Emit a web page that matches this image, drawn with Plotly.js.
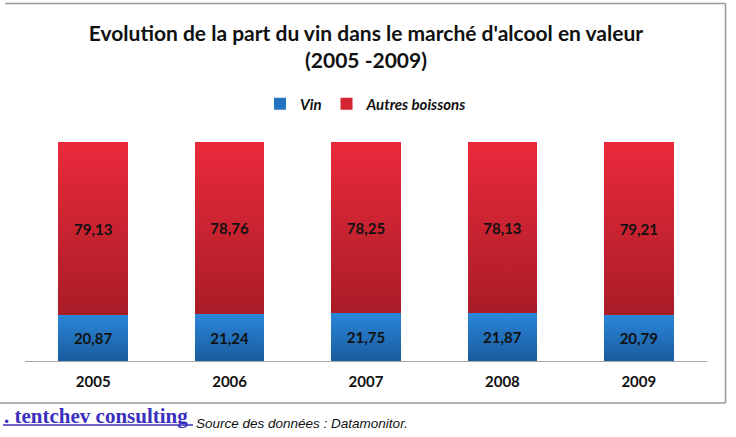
<!DOCTYPE html>
<html>
<head>
<meta charset="utf-8">
<script src="https://cdn.plot.ly/plotly-3.0.1.min.js"></script>
<style>html,body{margin:0;padding:0;background:#fff;}#chart{width:736px;height:437px;}</style>
</head>
<body>
<div id="chart"></div>
<script>
const years = ['2005', '2006', '2007', '2008', '2009'];
const vin = [20.87, 21.24, 21.75, 21.87, 20.79];
const autres = [79.13, 78.76, 78.25, 78.13, 79.21];
const seriesNames = ['Vin', 'Autres boissons'];
const titleText = "Evolution de la part du vin dans le marché d'alcool en valeur<br>(2005 -2009)";
const footerBrand = '. tentchev consulting';
const footerSource = 'Source des données : Datamonitor.';

const W = 736, H = 437;
const M = {l: 25, r: 29, t: 142, b: 76};
const pw = W - M.l - M.r, ph = H - M.t - M.b;
const px = x => (x - M.l) / pw;
const py = y => (H - M.b - y) / ph;

const labelFont = {family: 'Lato, "Open Sans", sans-serif', size: 15, color: '#111', weight: 'bold'};

const traces = [
  {type: 'bar', x: years, y: vin, name: seriesNames[0],
   marker: {color: '#2474c2'},
   texttemplate: '<b>%{y:.2f}</b>', textposition: 'inside', insidetextanchor: 'middle',
   textfont: labelFont, hoverinfo: 'none'},
  {type: 'bar', x: years, y: autres, name: seriesNames[1],
   marker: {color: '#d42532'},
   texttemplate: '<b>%{y:.2f}</b>', textposition: 'inside', insidetextanchor: 'middle',
   textfont: labelFont, hoverinfo: 'none'}
];

const gray = '#999999';
const layout = {
  width: W, height: H,
  margin: M,
  barmode: 'stack',
  bargap: 0.49,
  separators: ', ',
  paper_bgcolor: '#ffffff', plot_bgcolor: '#ffffff',
  font: {family: 'Lato, sans-serif', color: '#111'},
  title: {text: '<b>' + titleText + '</b>', x: 0.5, xanchor: 'center', xref: 'paper',
          y: 1 - 41 / H, yanchor: 'middle',
          font: {family: 'Lato, "Open Sans", sans-serif', size: 21, color: '#111'}},
  showlegend: true,
  legend: {orientation: 'h', x: 0.5, xanchor: 'center', y: py(104), yanchor: 'middle',
           font: {family: 'Lato, sans-serif', size: 15, color: '#111', weight: 'bold', style: 'italic'},
           traceorder: 'normal', itemwidth: 30},
  xaxis: {type: 'category', showline: true, linecolor: '#a6a6a6', linewidth: 1,
          ticks: '', showgrid: false, zeroline: false,
          tickfont: {family: 'Lato, sans-serif', size: 15, color: '#111', weight: 'bold'},
          ticklabelstandoff: 7, fixedrange: true},
  yaxis: {range: [0, 100], visible: false, showgrid: false, zeroline: false, fixedrange: true},
  shapes: [
    {type: 'line', xref: 'paper', yref: 'paper', x0: px(5), x1: px(725.5), y0: py(3.5), y1: py(3.5), line: {color: gray, width: 1.5}},
    {type: 'line', xref: 'paper', yref: 'paper', x0: px(725.5), x1: px(725.5), y0: py(3.5), y1: py(403), line: {color: gray, width: 1.5}},
    {type: 'line', xref: 'paper', yref: 'paper', x0: px(0), x1: px(725.5), y0: py(403), y1: py(403), line: {color: gray, width: 1.5}},
    {type: 'line', xref: 'paper', yref: 'paper', x0: px(3), x1: px(193), y0: py(425), y1: py(425), line: {color: '#3b2fc0', width: 1.5}}
  ],
  annotations: [
    {text: '<b>' + footerBrand + '</b>', xref: 'paper', yref: 'paper', x: px(2), y: py(416), xanchor: 'left', yanchor: 'middle',
     showarrow: false, font: {family: '"Liberation Serif", "DejaVu Serif", serif', size: 21, color: '#3b2fc0'}},
    {text: '<i>' + footerSource + '</i>', xref: 'paper', yref: 'paper', x: px(194), y: py(423), xanchor: 'left', yanchor: 'middle',
     showarrow: false, font: {family: '"Liberation Sans", Arial, sans-serif', size: 13.5, color: '#111'}}
  ]
};

Plotly.newPlot('chart', traces, layout, {displayModeBar: false, staticPlot: true}).then(gd => {
  const svg = gd.querySelector('svg.main-svg');
  const ns = 'http://www.w3.org/2000/svg';
  let defs = svg.querySelector('defs');
  if (!defs) { defs = document.createElementNS(ns, 'defs'); svg.insertBefore(defs, svg.firstChild); }
  const grads = [['gBlue', '#2a86d8', '#1a5c9e'], ['gRed', '#ea2a3b', '#a91c27']];
  grads.forEach(([id, c1, c2]) => {
    const g = document.createElementNS(ns, 'linearGradient');
    g.setAttribute('id', id); g.setAttribute('x1', '0'); g.setAttribute('y1', '0'); g.setAttribute('x2', '0'); g.setAttribute('y2', '1');
    [[0, c1], [1, c2]].forEach(([o, c]) => {
      const s = document.createElementNS(ns, 'stop');
      s.setAttribute('offset', o); s.setAttribute('stop-color', c);
      g.appendChild(s);
    });
    defs.appendChild(g);
  });
  const barTraces = svg.querySelectorAll('.barlayer .trace');
  barTraces.forEach((t, i) => {
    t.querySelectorAll('.point path').forEach(p => { p.style.fill = 'url(#' + grads[i][0] + ')'; });
  });
});
</script>
</body>
</html>
